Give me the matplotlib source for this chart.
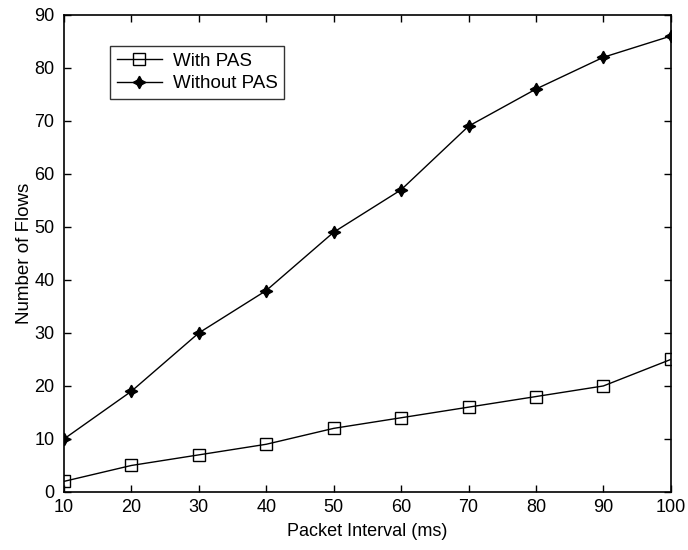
import matplotlib.pyplot as plt

plt.rcParams['font.family'] = ['Liberation Sans', 'DejaVu Sans']

interval = [10, 20, 30, 40, 50, 60, 70, 80, 90, 100]
with_pas = [2, 5, 7, 9, 12, 14, 16, 18, 20, 25]
without_pas = [10, 19, 30, 38, 49, 57, 69, 76, 82, 86]

fig = plt.figure(figsize=(6.88, 5.5), dpi=100)
ax = fig.add_axes([0.093, 0.1055, 0.882, 0.8675])

ax.plot(interval, with_pas, color='black', lw=1.0, marker='s', markersize=8,
        markerfacecolor='none', markeredgecolor='black', markeredgewidth=1.0,
        label='With PAS')
ax.plot(interval, without_pas, color='black', lw=1.0, marker=(4, 1, 0), markersize=9,
        markerfacecolor='black', label='Without PAS')

ax.set_xlim(10, 100)
ax.set_ylim(0, 90)
ax.set_xticks(range(10, 101, 10))
ax.set_yticks(range(0, 91, 10))
ax.tick_params(direction='in', top=True, right=True, length=5, width=1, labelsize=13)
ax.tick_params(axis='x', pad=5)
ax.tick_params(axis='y', pad=7)
for s in ax.spines.values():
    s.set_linewidth(1.2)

ax.set_xlabel('Packet Interval (ms)', fontsize=13, labelpad=5)
ax.set_ylabel('Number of Flows', fontsize=13.5, labelpad=1)

leg = ax.legend(loc='upper left', bbox_to_anchor=(0.076, 0.935), fontsize=13.5,
                frameon=True, fancybox=False, edgecolor='black', handlelength=2.4,
                borderpad=0.35, labelspacing=0.3, handletextpad=0.6, borderaxespad=0)
leg.get_frame().set_linewidth(1.0)

fig.savefig('out.png', dpi=100)
